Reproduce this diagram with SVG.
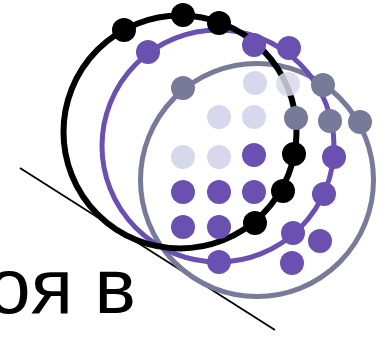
<svg xmlns="http://www.w3.org/2000/svg" width="385" height="338" viewBox="0 0 385 338">
<style>
.ring{fill:none}
.k{fill:#000}
.p{fill:#6a50b0}
.g{fill:#787a9a}
.l{fill:#d8d8ec}
.lbl{font-family:"Liberation Sans",Arial,sans-serif;font-size:78px;fill:#000}
</style>
<rect width="385" height="338" fill="#fff"/>
<g id="connectors">
<line x1="20" y1="168" x2="275" y2="330" stroke="#000" stroke-width="1.8"/>
<circle class="ring" cx="257" cy="180" r="116.5" stroke="#787a9a" stroke-width="5"/>
<circle class="ring" cx="218" cy="146" r="116" stroke="#6a50b0" stroke-width="5"/>
<circle class="ring" cx="180" cy="132" r="116.5" stroke="#000" stroke-width="6"/>
</g>
<g id="lavender-dots">
<circle class="l" cx="255" cy="83" r="12"/>
<circle class="l" cx="219" cy="117" r="12"/>
<circle class="l" cx="254" cy="117" r="12"/>
<circle class="l" cx="183" cy="157" r="12"/>
<circle class="l" cx="219" cy="157" r="12"/>
<circle class="l" cx="288" cy="84" r="12" opacity="0.85"/>
</g>
<g id="purple-dots">
<circle class="p" cx="148" cy="52" r="12"/>
<circle class="p" cx="254" cy="45" r="12"/>
<circle class="p" cx="289" cy="48" r="12"/>
<circle class="p" cx="334" cy="157" r="12"/>
<circle class="p" cx="324" cy="194" r="12"/>
<circle class="p" cx="293" cy="233" r="12"/>
<circle class="p" cx="320" cy="241" r="12"/>
<circle class="p" cx="292" cy="263" r="12"/>
<circle class="p" cx="219" cy="262" r="12"/>
<circle class="p" cx="254" cy="155" r="12"/>
<circle class="p" cx="183" cy="192" r="12"/>
<circle class="p" cx="219" cy="192" r="12"/>
<circle class="p" cx="254" cy="192" r="12"/>
<circle class="p" cx="183" cy="227" r="12"/>
<circle class="p" cx="219" cy="227" r="12"/>
</g>
<g id="grey-dots">
<circle class="g" cx="183" cy="88" r="12"/>
<circle class="g" cx="323" cy="85" r="12"/>
<circle class="g" cx="296" cy="118" r="12"/>
<circle class="g" cx="330" cy="121" r="12"/>
<circle class="g" cx="360" cy="122" r="12"/>
</g>
<g id="black-dots">
<circle class="k" cx="124" cy="30" r="12"/>
<circle class="k" cx="183" cy="15" r="12"/>
<circle class="k" cx="219" cy="23" r="12"/>
<circle class="k" cx="294" cy="154" r="12"/>
<circle class="k" cx="283" cy="191" r="12"/>
<circle class="k" cx="255" cy="223" r="12"/>
</g>
<g id="label">
<text class="lbl" x="136" y="313" text-anchor="end">оя в</text>
</g>
</svg>
